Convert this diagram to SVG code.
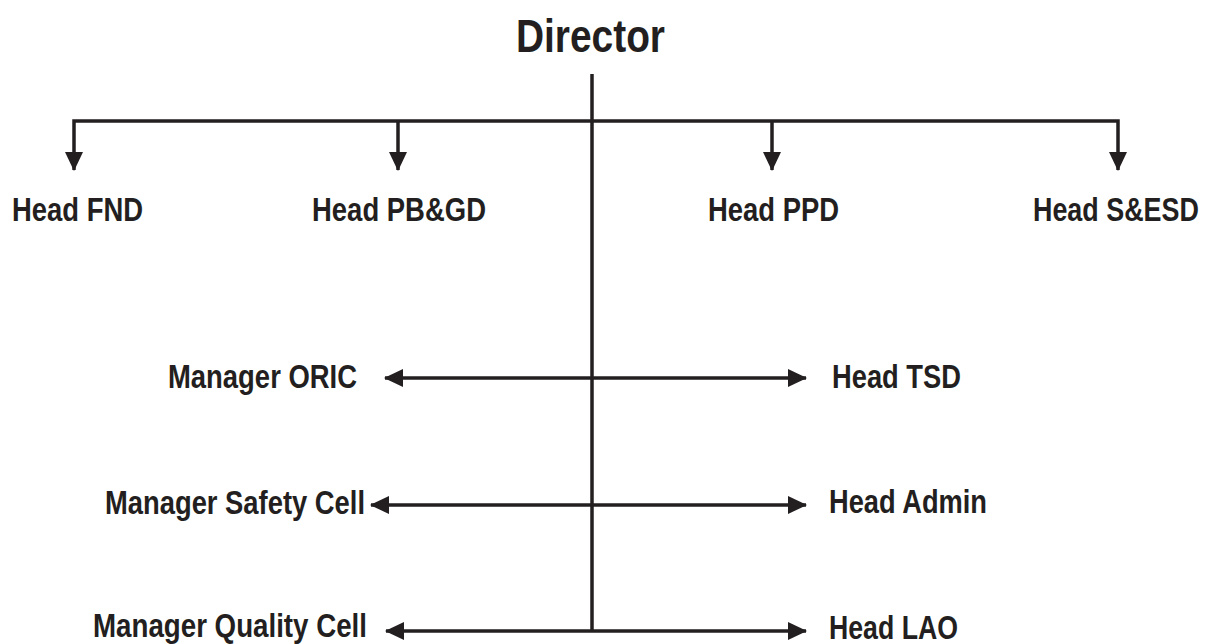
<svg xmlns="http://www.w3.org/2000/svg" width="1208" height="644" viewBox="0 0 1208 644">
<style>
.t{font-family:"Liberation Sans",Arial,sans-serif;font-weight:bold;fill:#231f20;}
.l{font-size:33px;}
.ln{stroke:#231f20;stroke-width:3.5;fill:none;}
</style>
<defs>
<marker id="ah" markerUnits="userSpaceOnUse" markerWidth="19" markerHeight="18" refX="18" refY="9" orient="auto-start-reverse" viewBox="0 0 19 18">
<path d="M0,0 L19,9 L0,18 Z" fill="#231f20"/>
</marker>
</defs>
<rect width="1208" height="644" fill="#ffffff"/>
<g id="connectors">
<line class="ln" x1="592" y1="74" x2="592" y2="632"/>
<polyline class="ln" points="74,170 74,121 1118,121 1118,170" marker-start="url(#ah)" marker-end="url(#ah)"/>
<line class="ln" x1="398" y1="121" x2="398" y2="170" marker-end="url(#ah)"/>
<line class="ln" x1="772" y1="121" x2="772" y2="170" marker-end="url(#ah)"/>
<line class="ln" x1="385" y1="378" x2="806" y2="378" marker-start="url(#ah)" marker-end="url(#ah)"/>
<line class="ln" x1="371" y1="505" x2="806" y2="505" marker-start="url(#ah)" marker-end="url(#ah)"/>
<line class="ln" x1="386" y1="631" x2="806" y2="631" marker-start="url(#ah)" marker-end="url(#ah)"/>
</g>
<g id="director"><text class="t" x="516" y="52" font-size="47" textLength="149" lengthAdjust="spacingAndGlyphs">Director</text></g>
<g id="head-fnd"><text class="t l" x="12" y="221" textLength="131" lengthAdjust="spacingAndGlyphs">Head FND</text></g>
<g id="head-pbgd"><text class="t l" x="312" y="221" textLength="174" lengthAdjust="spacingAndGlyphs">Head PB&amp;GD</text></g>
<g id="head-ppd"><text class="t l" x="708" y="221" textLength="131" lengthAdjust="spacingAndGlyphs">Head PPD</text></g>
<g id="head-sesd" transform="translate(1033,221) scale(0.815,1)"><text class="t l" x="0" y="0">Head S&amp;ESD</text></g>
<g id="manager-oric"><text class="t l" x="168" y="388" textLength="189" lengthAdjust="spacingAndGlyphs">Manager ORIC</text></g>
<g id="head-tsd"><text class="t l" x="832" y="388" textLength="129" lengthAdjust="spacingAndGlyphs">Head TSD</text></g>
<g id="manager-safety"><text class="t l" x="105" y="514" textLength="260" lengthAdjust="spacingAndGlyphs">Manager Safety Cell</text></g>
<g id="head-admin"><text class="t l" x="829" y="513" textLength="158" lengthAdjust="spacingAndGlyphs">Head Admin</text></g>
<g id="manager-quality"><text class="t l" x="93" y="637" textLength="274" lengthAdjust="spacingAndGlyphs">Manager Quality Cell</text></g>
<g id="head-lao"><text class="t l" x="829" y="639" textLength="129" lengthAdjust="spacingAndGlyphs">Head LAO</text></g>
</svg>
